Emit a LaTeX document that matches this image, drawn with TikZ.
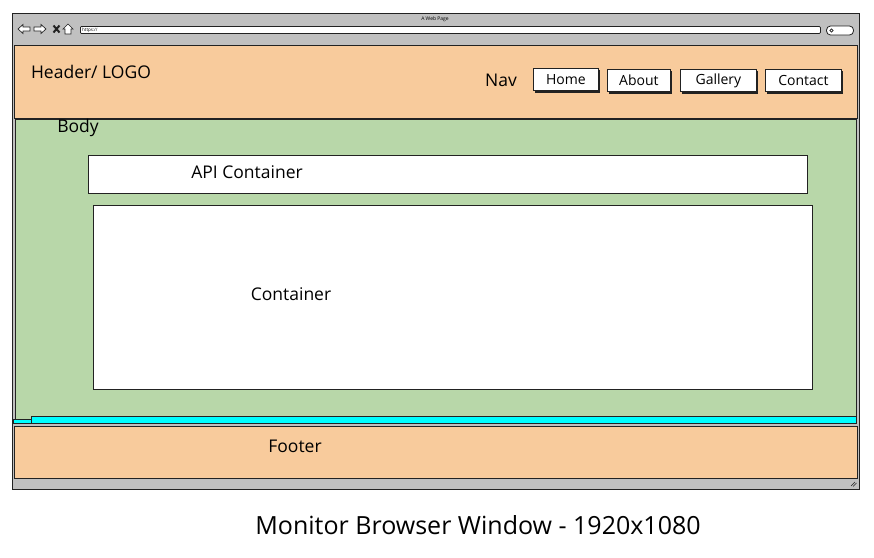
\documentclass[tikz,border=0pt]{standalone}
\usepackage{fontspec}
\setmainfont{Open Sans}
\definecolor{peach}{HTML}{F8CB9C}
\definecolor{bodygreen}{HTML}{B8D7A9}
\definecolor{chrome}{HTML}{C0C0C0}
\definecolor{barcyan}{HTML}{00FFFF}
\definecolor{ink}{HTML}{222222}
\begin{document}
\begin{tikzpicture}[x=1pt,y=-1pt,
  box/.style={draw=ink,line width=0.8pt},
  lbl/.style={font=\fontsize{17.5}{20}\selectfont,inner sep=0pt,anchor=center},
  btn/.style={draw=ink,fill=white,line width=0.8pt,minimum height=22pt,inner sep=0pt,font=\fontsize{14}{16}\selectfont},
]
\useasboundingbox (0,0) rectangle (874,557);
% window chrome
\node[box,fill=chrome,minimum width=847pt,minimum height=476pt,anchor=north west,inner sep=0pt] (win) at (12,13) {};
\node[font=\fontsize{5}{6}\selectfont,inner sep=0pt] (title) at (435,19) {A Web Page};
% nav icons
\draw[ink,fill=white,line width=0.7pt] (18,29) -- (23,24.5) -- (23,27) -- (30,27) -- (30,31) -- (23,31) -- (23,33.5) -- cycle;
\draw[ink,fill=white,line width=0.7pt] (46,29) -- (41,24.5) -- (41,27) -- (34,27) -- (34,31) -- (41,31) -- (41,33.5) -- cycle;
\coordinate (xc) at (56.5,29);
\draw[ink,line width=2pt] ([shift={(-3,-3.5)}]xc) -- ([shift={(3,3.5)}]xc) ([shift={(3,-3.5)}]xc) -- ([shift={(-3,3.5)}]xc);
\draw[ink,fill=white,line width=0.7pt] (63,29) -- (68,24) -- (73,29) -- (71,29) -- (71,34) -- (65,34) -- (65,29) -- cycle;
\node[draw=ink,fill=white,line width=0.8pt,rounded corners=1pt,minimum width=740pt,minimum height=7pt,inner sep=0pt,anchor=west] (url) at (80,30) {};
\node[font=\fontsize{4.5}{5}\selectfont,inner sep=0pt,anchor=west] (urltext) at (82,30) {https://};
\node[draw=ink,fill=white,line width=0.8pt,rounded corners=4pt,minimum width=27pt,minimum height=9pt,inner sep=0pt] (search) at (840,30.5) {};
\draw[ink,line width=0.6pt] (831.5,30.5) circle (1.6pt);
% header
\node[box,fill=peach,minimum width=843pt,minimum height=73pt,anchor=north west,inner sep=0pt] (header) at (14,45) {};
\node[lbl] (logo) at (91,72) {Header/ LOGO};
\node[lbl] (nav) at (501,80) {Nav};
\fill[ink] (535,70) rectangle (600,93);
\node[btn,minimum width=65pt,anchor=north west] (home) at (533,68) {Home};
\fill[ink] (609,71) rectangle (672,94);
\node[btn,minimum width=63pt,anchor=north west] (about) at (607,69) {About};
\fill[ink] (682,71) rectangle (758,94);
\node[btn,minimum width=76pt,anchor=north west] (gallery) at (680,69) {Gallery};
\fill[ink] (767,71) rectangle (843,94);
\node[btn,minimum width=76pt,anchor=north west] (contact) at (765,69) {Contact};
% body
\node[box,fill=bodygreen,minimum width=841pt,minimum height=301pt,anchor=north west,inner sep=0pt] (body) at (15,119) {};
\node[lbl] (bodytxt) at (78,128) {Body};
\node[box,fill=white,minimum width=719pt,minimum height=38pt,anchor=north west,inner sep=0pt] (api) at (88,155) {};
\node[lbl] (apitxt) at (247,172) {API Container};
\node[box,fill=white,minimum width=719pt,minimum height=184pt,anchor=north west,inner sep=0pt] (cont) at (93,205) {};
\node[lbl] (conttxt) at (291,294) {Container};
% cyan bar
\node[draw=ink,fill=barcyan,line width=0.7pt,minimum width=18pt,minimum height=4pt,anchor=north west,inner sep=0pt] (cyansmall) at (13,419) {};
\node[draw=ink,fill=barcyan,line width=0.8pt,minimum width=825pt,minimum height=7pt,anchor=north west,inner sep=0pt] (cyan) at (31,416) {};
% footer
\node[box,fill=peach,minimum width=843pt,minimum height=52pt,anchor=north west,inner sep=0pt] (footer) at (14,426) {};
\node[lbl] (foottxt) at (295,446) {Footer};
% resize grip
\draw[ink,line width=0.6pt] (851,486) -- (855,482) (853,486.5) -- (856.5,483);
% caption
\node[font=\fontsize{25}{28}\selectfont,inner sep=0pt] (caption) at (478,525) {Monitor Browser Window - 1920x1080};
\end{tikzpicture}
\end{document}
